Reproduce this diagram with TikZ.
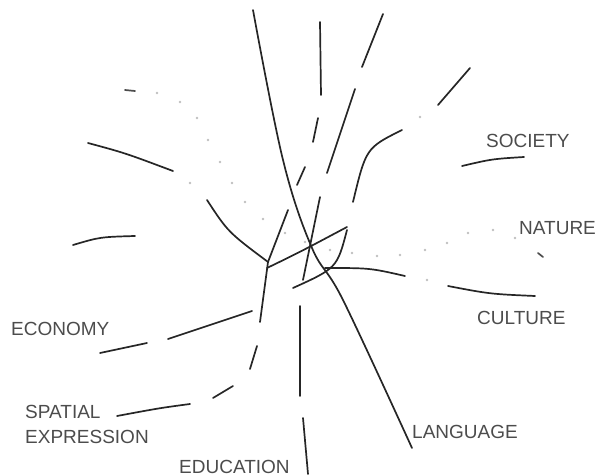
\documentclass[tikz,border=0pt]{standalone}
\usepackage{fontspec}
\setmainfont{Liberation Sans}
\begin{document}
\begin{tikzpicture}[x=1pt,y=-1pt,
  stroke/.style={line width=1.7pt,black!85,line cap=round},
  lbl/.style={anchor=base west,inner sep=0pt,text=black!70,
    font=\fontsize{19}{25}\selectfont},
  dotmark/.style={fill=black!25}]
  \useasboundingbox (0,0) rectangle (595,476);
  % labels
  \node[lbl] (society) at (486,148) {SOCIETY};
  \node[lbl] (nature) at (519,235) {NATURE};
  \node[lbl] (culture) at (477,324) {CULTURE};
  \node[lbl] (language) at (412,438) {LANGUAGE};
  \node[lbl] (economy) at (11,335) {ECONOMY};
  \node[lbl] (spatial) at (25,418) {SPATIAL};
  \node[lbl] (expression) at (25,443) {EXPRESSION};
  \node[lbl] (education) at (179,473) {EDUCATION};
  % language
  \draw[stroke] plot[smooth,tension=0.6] coordinates
    {(253,10) (283,160) (312,248) (343,300) (412,448)};
  % spatial expression
  \draw[stroke] (320,22) -- (321,95);
  \draw[stroke] (318,118) -- (313,142);
  \draw[stroke] (305,167) -- (297,185);
  \draw[stroke] (288,210) -- (268,262) -- (260,322);
  \draw[stroke] (257,346) -- (250,369);
  \draw[stroke] (233,386) -- (213,398);
  \draw[stroke] (190,404) .. controls (160,408) .. (117,416);
  % education
  \draw[stroke] (383,14) -- (362,67);
  \draw[stroke] (355,89) -- (327,173);
  \draw[stroke] (320,197) -- (303,280);
  \draw[stroke] (300,306) -- (300,396);
  \draw[stroke] (303,418) -- (308,474);
  % left curves
  \draw[stroke] (88,143) .. controls (125,153) .. (173,171);
  \draw[stroke] (207,200) .. controls (228,232) .. (268,262);
  \draw[stroke] (73,245) .. controls (100,237) .. (135,236);
  % economy
  \draw[stroke] (252,311) -- (168,339);
  \draw[stroke] (147,343) -- (100,353);
  % lens
  \draw[stroke] (267,268) .. controls (300,252) .. (347,227);
  \draw[stroke] (347,230) .. controls (337,268) .. (293,288);
  % culture
  \draw[stroke] (325,268) .. controls (370,268) .. (405,276);
  \fill[dotmark] (427,280) circle[radius=1.3pt];
  \draw[stroke] (448,286) .. controls (490,294) .. (535,296);
  % society
  \draw[stroke] (470,68) -- (438,105);
  \fill[dotmark] (420,117) circle[radius=1.3pt];
  \draw[stroke] (402,130) .. controls (366,148) .. (353,202);
  \draw[stroke] (462,166) .. controls (492,159) .. (524,157);
  % nature dots
  \draw[stroke,black!70] (125,90) -- (135,91);
  \foreach \p in {(157,93),(180,102),(197,118),(208,140),(220,162),
      (232,183),(245,202),(263,219),(285,233),(305,242),(330,250),
      (352,253),(377,256),(400,255),(425,250),(447,243),(468,233),
      (493,230),(515,238),(190,183)}
    \fill[dotmark] \p circle[radius=1.3pt];
  \draw[stroke,black!70] (538,253) -- (543,257);
\end{tikzpicture}
\end{document}
